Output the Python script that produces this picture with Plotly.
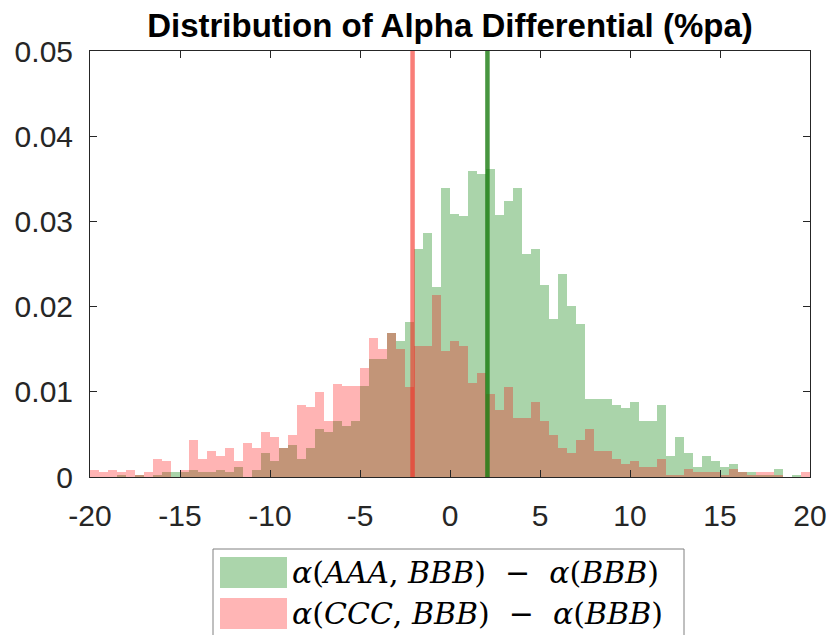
import numpy as np
import plotly.graph_objects as go

# Histogram bins (width 0.5, from -20 to 20)
bin_edges = np.arange(-20.0, 20.0 + 0.25, 0.5)
bin_centers = (bin_edges[:-1] + bin_edges[1:]) / 2

# Probability density per bin: alpha(AAA,BBB) - alpha(BBB)
density_aaa = [
    0, 0, 0, .00027, 0, .00027, 0, .00027, .00054, .00054,
    .00054, .00086, .00054, .00054, .00086, .00054, .00121, 0, .00086, .00277,
    .00183, .0034, .00371, .00215, .0034, .00558, .00531, .00656, .00593, .00656,
    .01067, .01383, .01383, .01695, .01598, .01821, .02673, .02859, .02227, .03395,
    .0309, .03059, .03587, .0356, .03617, .03078, .03235, .03391, .02614, .02673,
    .02255, .01852, .02387, .0201, .01794, .0091, .0091, .0091, .00844, .00812,
    .00875, .00656, .00656, .00844, .0025, .00469, .00277, .00121, .00246, .00183,
    .00121, .00152, .00059, .00059, .00027, .00027, .00089, 0, .00027, 0,
]

# Probability density per bin: alpha(CCC,BBB) - alpha(BBB)
density_ccc = [
    .00086, .00054, .00086, .00054, .00086, .00027, .00054, .00215, .00183, 0,
    .00086, .00437, .00215, .00308, .00246, .00343, .00183, .00402, .00343, .00531,
    .00469, .0034, .00496, .00844, .00816, .0100, .00656, .01094, .01067, .01067,
    .01285, .0163, .01504, .01695, .01504, .01062, .01539, .01539, .02133, .01476,
    .01598, .01539, .01098, .01222, .00969, .00785, .01062, .00692, .00692, .00875,
    .00652, .00496, .00344, .00281, .00437, .00563, .00308, .00308, .00215, .00152,
    .00183, .00121, .00121, .00215, .00027, .00027, .00089, .00059, .00059, .00059,
    .00027, .00089, .00059, .00027, .00059, .00059, .00027, 0, 0, .00059,
]

# Mean of each distribution
mean_aaa = 2.08
mean_ccc = -2.08

x_ticks = [-20, -15, -10, -5, 0, 5, 10, 15, 20]
x_tick_text = ["-20", "-15", "-10", "-5", "0", "5", "10", "15", "20"]
y_ticks = [0, 0.01, 0.02, 0.03, 0.04, 0.05]
y_tick_text = ["0", "0.01", "0.02", "0.03", "0.04", "0.05"]

legend_labels = [
    "<i>α</i>(<i>AAA</i>, <i>BBB</i>)  −  <i>α</i>(<i>BBB</i>)",
    "<i>α</i>(<i>CCC</i>, <i>BBB</i>)  −  <i>α</i>(<i>BBB</i>)",
]

GREEN = "rgb(0,128,0)"
RED = "rgb(255,0,0)"
AXIS = "#262626"

W, H = 830, 635
ML, MR, MT, MB = 90, 20, 51, 158
PW, PH = W - ML - MR, H - MT - MB


def px_x(px):
    return (px - ML) / PW


def px_y(py):
    return (H - MB - py) / PH


fig = go.Figure()

fig.add_trace(go.Bar(
    x=bin_centers, y=density_aaa, width=0.5,
    marker=dict(color=GREEN, line=dict(width=0)),
    opacity=0.33, showlegend=False,
))
fig.add_trace(go.Bar(
    x=bin_centers, y=density_ccc, width=0.5,
    marker=dict(color=RED, line=dict(width=0)),
    opacity=0.29, showlegend=False,
))

fig.add_trace(go.Scatter(
    x=[mean_ccc, mean_ccc], y=[0, 0.05], mode="lines",
    line=dict(color="rgba(245,40,30,0.6)", width=4.5), showlegend=False,
))
fig.add_trace(go.Scatter(
    x=[mean_aaa, mean_aaa], y=[0, 0.05], mode="lines",
    line=dict(color="rgba(20,120,10,0.78)", width=4.5), showlegend=False,
))

axis_common = dict(
    showline=True, linecolor=AXIS, linewidth=1, mirror="allticks",
    ticks="inside", ticklen=7, tickcolor=AXIS, tickwidth=1,
    showgrid=False, zeroline=False, automargin=False,
    tickfont=dict(family="Liberation Sans, Arial, sans-serif", size=30, color=AXIS),
)

fig.update_xaxes(
    range=[-20, 20], tickmode="array", tickvals=x_ticks, ticktext=x_tick_text,
    ticklabelstandoff=12, **axis_common,
)
fig.update_yaxes(
    range=[0, 0.05], tickmode="array", tickvals=y_ticks, ticktext=y_tick_text,
    ticklabelstandoff=10, **axis_common,
)

# Legend box with large colour swatches
shapes = [
    dict(type="rect", xref="paper", yref="paper",
         x0=px_x(213), x1=px_x(684), y0=px_y(549), y1=px_y(660),
         line=dict(color="#808080", width=1), fillcolor="white"),
    dict(type="rect", xref="paper", yref="paper",
         x0=px_x(220), x1=px_x(287), y0=px_y(557), y1=px_y(588),
         line=dict(width=0), fillcolor=GREEN, opacity=0.33),
    dict(type="rect", xref="paper", yref="paper",
         x0=px_x(220), x1=px_x(287), y0=px_y(598), y1=px_y(629),
         line=dict(width=0), fillcolor=RED, opacity=0.29),
]

annotations = []
for label, yc in zip(legend_labels, [572, 613]):
    annotations.append(dict(
        text=label, xref="paper", yref="paper",
        x=px_x(290), y=px_y(yc), xanchor="left", yanchor="middle",
        showarrow=False,
        font=dict(family="DejaVu Serif, serif", size=30, color="black"),
    ))

fig.update_layout(
    width=W, height=H,
    margin=dict(l=ML, r=MR, t=MT, b=MB),
    paper_bgcolor="white", plot_bgcolor="white",
    barmode="overlay", bargap=0,
    title=dict(
        text="<b>Distribution of Alpha Differential (%pa)</b>",
        x=(ML + PW / 2) / W, xanchor="center",
        y=1 - 25 / H, yanchor="middle",
        font=dict(family="Liberation Sans, Arial, sans-serif", size=33, color="black"),
    ),
    shapes=shapes,
    annotations=annotations,
)

fig.write_html("out.html")
